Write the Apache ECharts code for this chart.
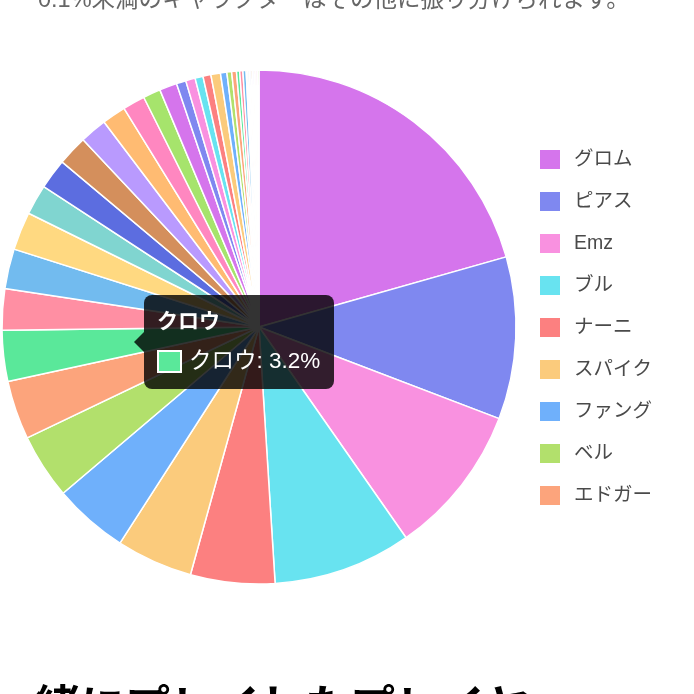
<!DOCTYPE html>
<html>
<head>
<meta charset="utf-8">
<script src="https://cdn.jsdelivr.net/npm/echarts@6/dist/echarts.min.js"></script>
<style>
html,body{margin:0;padding:0;background:#fff;overflow:hidden}
#c{width:694px;height:694px}
.tt::before{content:"";position:absolute;left:-10px;top:37px;border-top:10px solid transparent;border-bottom:10px solid transparent;border-right:10px solid rgba(0,0,0,0.8);}
</style>
</head>
<body>
<div id="c"></div>
<script>
const names = ["グロム","ピアス","Emz","ブル","ナーニ","スパイク","ファング","ベル","エドガー","クロウ",
  "シェリー","ニタ","コルト","ジェシー","ダイナマイク","ティック","8ビット","リコ","ダリル","ペニー",
  "カール","ジャッキー","ガス","ボウ","エル・プリモ","バーリー","ポコ","ローサ","パイパー","パム",
  "フランケン","ビビ","ビー","マックス","ミスターP","スプラウト","ルー","サンディ","ジーン","その他"];
const values = [20.6,10.2,9.5,8.7,5.3,4.8,4.7,4.1,3.7,3.2,
  2.6,2.5,2.4,1.9,1.9,1.9,1.7,1.5,1.4,1.1,
  1.1,0.6,0.6,0.5,0.5,0.6,0.4,0.3,0.3,0.2,
  0.2,0.2,0.1,0.1,0.1,0.1,0.1,0.1,0.1,0.1];
const palette = ["#d575ec","#7f88f0","#f991e0","#68e3f0","#fc8080","#fbcb7c","#6fb0fb","#b2e06c","#fca47c","#5ae89a",
  "#ff8fa3","#72bbef","#ffd981","#80d5d0","#5c6de0","#d48f5c","#b99afe","#ffbb72","#ff87c0","#a6e46c"];
const legendNames = names.slice(0, 9);
const noteText = "0.1%未満のキャラクターはその他に振り分けられます。";
const headingText = "一緒にプレイしたプレイヤー";
const tipIndex = 9;

const chart = echarts.init(document.getElementById('c'), null, {renderer:'canvas'});
const FF = "'Liberation Sans','Noto Sans CJK JP',sans-serif";
chart.setOption({
  animation: false,
  color: palette,
  textStyle: {fontFamily: FF},
  graphic: [
    {type:'text', left:38, top:-11, style:{text:noteText, fill:'#666', font:"23.5px 'Liberation Sans','Noto Sans CJK JP',sans-serif"}},
    {type:'text', left:-10, top:688, style:{text:headingText, fill:'#000', font:"bold 45px 'Liberation Sans','Noto Sans CJK JP',sans-serif"}}
  ],
  tooltip: {
    trigger:'item',
    triggerOn:'none',
    alwaysShowContent:true,
    transitionDuration:0,
    className:'tt',
    position:[144,295],
    backgroundColor:'rgba(0,0,0,0.8)',
    borderWidth:0,
    padding:[14,14,14,13],
    extraCssText:'border-radius:8px;box-shadow:none;',
    formatter: function(p){
      return '<div style="font-family:'+FF.replace(/'/g,'&quot;')+';color:#fff">'+
        '<div style="font-weight:bold;font-size:21px;line-height:24px;margin-bottom:14px">'+p.name+'</div>'+
        '<div style="display:flex;align-items:center;font-size:22.5px;line-height:28px">'+
        '<span style="display:inline-block;width:21px;height:19px;border:2px solid #fff;background:'+p.color+';margin-right:7px"></span>'+
        p.name+': '+p.value+'%</div></div>';
    }
  },
  legend: {
    data: legendNames,
    orient:'vertical',
    left:538,
    top:148,
    padding:0,
    itemWidth:22,
    itemHeight:21,
    itemGap:19,
    icon:'rect',
    textStyle:{fontSize:19.5, lineHeight:21, color:'#4a4a4a', padding:[0,0,0,8], fontFamily:FF}
  },
  series: [{
    type:'pie',
    center:[259,327],
    radius:[0,257],
    startAngle:90,
    clockwise:true,
    label:{show:false},
    labelLine:{show:false},
    emphasis:{disabled:true},
    itemStyle:{borderColor:'#fff', borderWidth:1.5},
    data: names.map((n,i)=>({name:n, value:values[i]}))
  }]
});
chart.dispatchAction({type:'showTip', seriesIndex:0, dataIndex:tipIndex});
</script>
</body>
</html>
